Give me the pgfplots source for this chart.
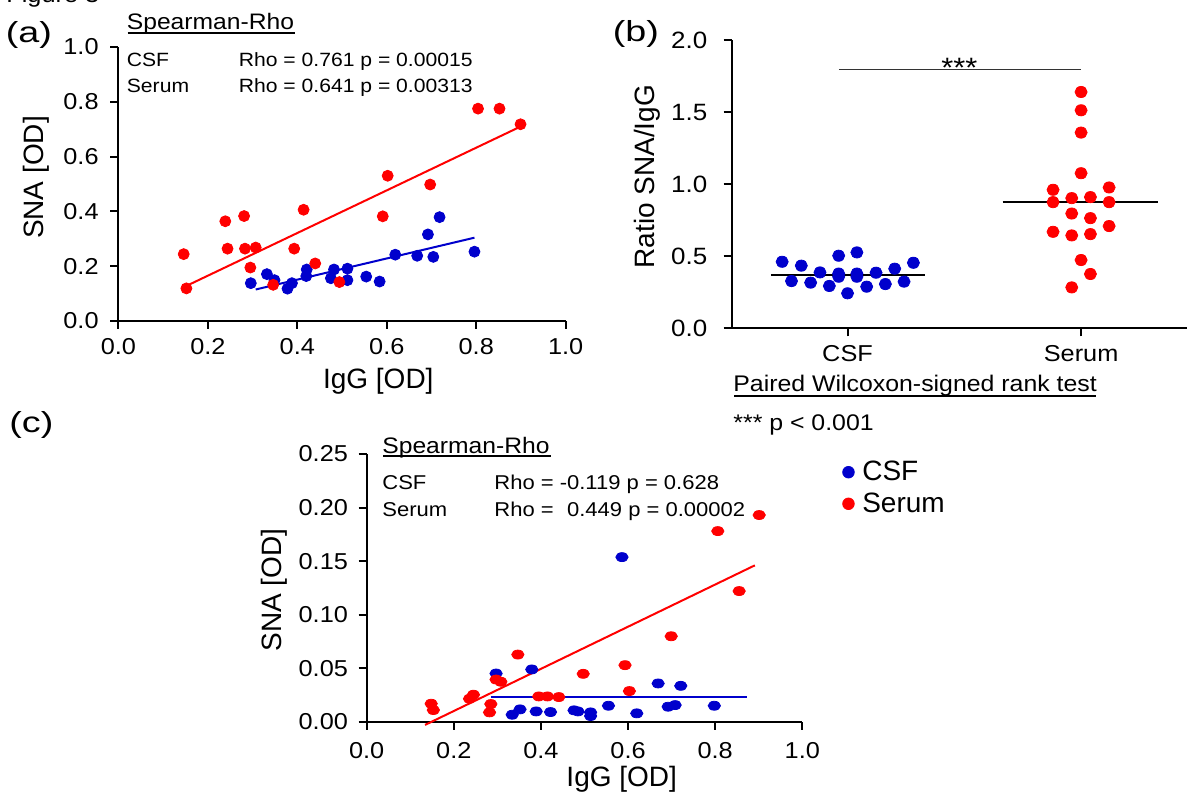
\documentclass[border=0pt]{standalone}
\usepackage{fontspec}
\setmainfont{Liberation Sans}[FakeStretch=1.1]
\newfontfamily\plainfont{Liberation Sans}
\newfontfamily\panelfont{Liberation Sans}[FakeStretch=1.3]
\usepackage{pgfplots}
\pgfplotsset{compat=1.18}
\definecolor{cred}{RGB}{255,0,0}
\definecolor{cblue}{RGB}{0,0,204}
\newcommand{\fs}[1]{\fontsize{#1}{#1}\selectfont}

\pgfplotsset{
  panel/.style={
    scale only axis, anchor=south west, clip=false,
    axis lines=left,
    axis line style={-, line width=1pt},
    tick align=outside,
    major tick length=4pt,
    every tick/.style={black, line width=1pt},
    tick label style={font=\fs{11.5}, inner sep=0pt},
  },
}

\begin{document}
\begin{tikzpicture}
\useasboundingbox (0,0) rectangle (593.5pt,396pt);

% ---------- (a) SNA vs IgG
\begin{axis}[panel, at={(59.2pt,235.5pt)}, width=223.65pt, height=137pt,
  xmin=0, xmax=1, ymin=0, ymax=1,
  xtick={0,0.2,0.4,0.6,0.8,1}, ytick={0,0.2,0.4,0.6,0.8,1},
  xticklabels={0.0,0.2,0.4,0.6,0.8,1.0},
  yticklabels={0.0,0.2,0.4,0.6,0.8,1.0},
  xticklabel style={anchor=north, yshift=-4.7pt},
  yticklabel style={anchor=east, xshift=-5.7pt},
]
\addplot[cblue, line width=1pt] coordinates {(0.307,0.115) (0.796,0.304)};
\addplot[cred, line width=1pt] coordinates {(0.152,0.128) (0.897,0.708)};
% CSF
\addplot[cblue, only marks, mark=*, mark size=2.75pt] coordinates {
  (0.296,0.138) (0.332,0.171) (0.349,0.149) (0.378,0.118) (0.388,0.138)
  (0.421,0.188) (0.420,0.164) (0.475,0.156) (0.482,0.188) (0.512,0.191)
  (0.512,0.149) (0.554,0.162) (0.584,0.144) (0.619,0.242) (0.668,0.238)
  (0.692,0.316) (0.704,0.234) (0.718,0.379) (0.796,0.253)
};
% Serum
\addplot[cred, only marks, mark=*, mark size=2.75pt] coordinates {
  (0.146,0.244) (0.152,0.119) (0.239,0.364) (0.244,0.264) (0.281,0.383)
  (0.283,0.264) (0.307,0.268) (0.295,0.195) (0.346,0.132) (0.393,0.264)
  (0.414,0.406) (0.440,0.210) (0.494,0.142) (0.591,0.382) (0.602,0.530)
  (0.697,0.498) (0.804,0.775) (0.852,0.775) (0.899,0.718)
};
\end{axis}

% ---------- (b) ratio SNA/IgG
\begin{axis}[panel, at={(365.85pt,231.85pt)}, width=228.4pt, height=144pt,
  xmin=0.504, xmax=2.46, ymin=0, ymax=2,
  xtick={1,2}, xticklabels={CSF,Serum},
  ytick={0,0.5,1,1.5,2}, yticklabels={0.0,0.5,1.0,1.5,2.0},
  xticklabel style={anchor=north, yshift=-4.3pt, font=\fs{11.5}},
  yticklabel style={anchor=east, xshift=-8pt, font=\fs{11.8}},
]
\addplot[cblue, only marks, mark=*, mark size=2.8pt, mark options={xscale=1.08}] coordinates {
  (0.720,0.462) (0.760,0.328) (0.802,0.435) (0.842,0.317) (0.882,0.388)
  (0.922,0.294) (0.962,0.358) (0.962,0.380) (0.962,0.504) (1.000,0.243)
  (1.040,0.527) (1.040,0.358) (1.040,0.380) (1.082,0.289) (1.122,0.386)
  (1.162,0.307) (1.202,0.414) (1.242,0.324) (1.282,0.455)
};
\addplot[cred, only marks, mark=*, mark size=2.8pt, mark options={xscale=1.08}] coordinates {
  (2.000,1.641) (2.000,1.514) (2.000,1.359) (2.000,1.077) (1.880,0.962)
  (2.120,0.978) (1.880,0.876) (1.960,0.904) (2.040,0.911) (2.120,0.876)
  (1.960,0.797) (2.040,0.765) (1.880,0.670) (1.960,0.645) (2.040,0.654)
  (2.120,0.710) (2.000,0.474) (2.040,0.377) (1.960,0.284)
};
% medians
\addplot[black, line width=1.2pt] coordinates {(0.672,0.370) (1.333,0.370)};
\addplot[black, line width=1.2pt] coordinates {(1.664,0.876) (2.331,0.876)};
% significance bar
\addplot[black!80, line width=0.75pt] coordinates {(0.963,1.796) (1.998,1.796)};
\end{axis}

% ---------- (c) SNA vs IgG
\begin{axis}[panel, at={(183.35pt,35.15pt)}, width=217.8pt, height=133.85pt,
  xmin=0, xmax=1, ymin=0, ymax=0.25,
  xtick={0,0.2,0.4,0.6,0.8,1}, ytick={0,0.05,0.1,0.15,0.2,0.25},
  xticklabels={0.0,0.2,0.4,0.6,0.8,1.0},
  yticklabels={0.00,0.05,0.10,0.15,0.20,0.25},
  xticklabel style={anchor=north, yshift=-6pt},
  yticklabel style={anchor=east, xshift=-5.2pt},
  legend style={draw=none, fill=none, font=\plainfont\fs{14},
    at={(rel axis cs:1.078,0.998)}, anchor=north west,
    nodes={inner sep=1pt}, row sep=2.5pt, column sep=3pt},
  legend cell align=left,
  legend image code/.code={\draw[#1, mark options={}, mark size=2.9pt] plot coordinates {(0pt,0pt)};},
]
\addplot[cblue, line width=1pt, forget plot] coordinates {(0.285,0.0233) (0.874,0.0233)};
\addplot[cred, line width=1pt, forget plot] coordinates {(0.134,-0.003) (0.891,0.146)};
\addplot[cblue, only marks, mark=*, mark size=2.25pt, mark options={xscale=1.37}] coordinates {
  (0.297,0.0450) (0.334,0.0065) (0.352,0.0115) (0.379,0.0488) (0.389,0.0096)
  (0.422,0.0090) (0.476,0.0106) (0.485,0.0096) (0.514,0.0087) (0.514,0.0053)
  (0.555,0.0149) (0.586,0.1537) (0.620,0.0078) (0.669,0.0357) (0.692,0.0140)
  (0.708,0.0155) (0.721,0.0335) (0.798,0.0149)
};
\addlegendentry{CSF}
\addplot[cred, only marks, mark=*, mark size=2.25pt, mark options={xscale=1.37}] coordinates {
  (0.148,0.0168) (0.153,0.0109) (0.236,0.0214) (0.245,0.0252) (0.282,0.0087)
  (0.285,0.0165) (0.297,0.0394) (0.308,0.0373) (0.347,0.0627) (0.395,0.0236)
  (0.415,0.0236) (0.441,0.0230) (0.497,0.0447) (0.593,0.0528) (0.603,0.0286)
  (0.699,0.0798) (0.806,0.1780) (0.855,0.1220) (0.901,0.1930)
};
\addlegendentry{Serum}
\end{axis}

% ---------- texts, in pixel units of the reference (y downwards)
\begin{scope}[x=0.5pt, y=-0.5pt, yshift=396pt, every node/.style={inner sep=0pt}]
  \node[anchor=base west, font=\fs{11.5}] at (6,3) {Figure 3};
  % (a)
  \node[anchor=base west, font=\panelfont\fs{14.5}] at (5.4,42.2) {(a)};
  \node[anchor=base west, font=\fs{11.2}] at (126.5,30) {Spearman-Rho};
  \draw[line width=0.7pt] (127.7,33) -- (295,33);
  \node[anchor=base west, font=\fs{9.6}] at (126.5,66.7) {CSF};
  \node[anchor=base west, font=\fs{9.6}] at (238.5,66.7) {Rho = 0.761 p = 0.00015};
  \node[anchor=base west, font=\fs{9.6}] at (126.5,92.7) {Serum};
  \node[anchor=base west, font=\fs{9.6}] at (238.5,92.7) {Rho = 0.641 p = 0.00313};
  \node[anchor=base, rotate=90, font=\plainfont\fs{14}] at (43.3,177.5) {SNA [OD]};
  \node[anchor=base, font=\plainfont\fs{14}] at (378.3,388.3) {IgG [OD]};
  % (b)
  \node[anchor=base west, font=\panelfont\fs{14.5}] at (612.4,42) {(b)};
  \node[anchor=base, rotate=90, font=\plainfont\fs{14}] at (654.3,176.7) {Ratio SNA/IgG};
  \node[anchor=base, font=\fs{14}] at (959.3,78) {***};
  \node[anchor=base west, font=\fs{11.3}] at (733,391.7) {Paired Wilcoxon-signed rank test};
  \draw[line width=0.7pt] (734,396) -- (1096,396);
  \node[anchor=base west, font=\fs{11.3}] at (733,430.7) {*** p < 0.001};
  % (c)
  \node[anchor=base west, font=\panelfont\fs{14.5}] at (9,432.2) {(c)};
  \node[anchor=base west, font=\fs{11.2}] at (382,453.3) {Spearman-Rho};
  \draw[line width=0.7pt] (383.3,456) -- (551,456);
  \node[anchor=base west, font=\fs{10}] at (382,490) {CSF};
  \node[anchor=base west, font=\fs{10}] at (494,490) {Rho = -0.119 p = 0.628};
  \node[anchor=base west, font=\fs{10}] at (382,516.7) {Serum};
  \node[anchor=base west, font=\fs{10}] at (494,516.7) {Rho = \phantom{-}0.449 p = 0.00002};
  \node[anchor=base, rotate=90, font=\plainfont\fs{14}] at (281,590) {SNA [OD]};
  \node[anchor=base, font=\plainfont\fs{14}] at (621.7,786) {IgG [OD]};
\end{scope}
\end{tikzpicture}
\end{document}
